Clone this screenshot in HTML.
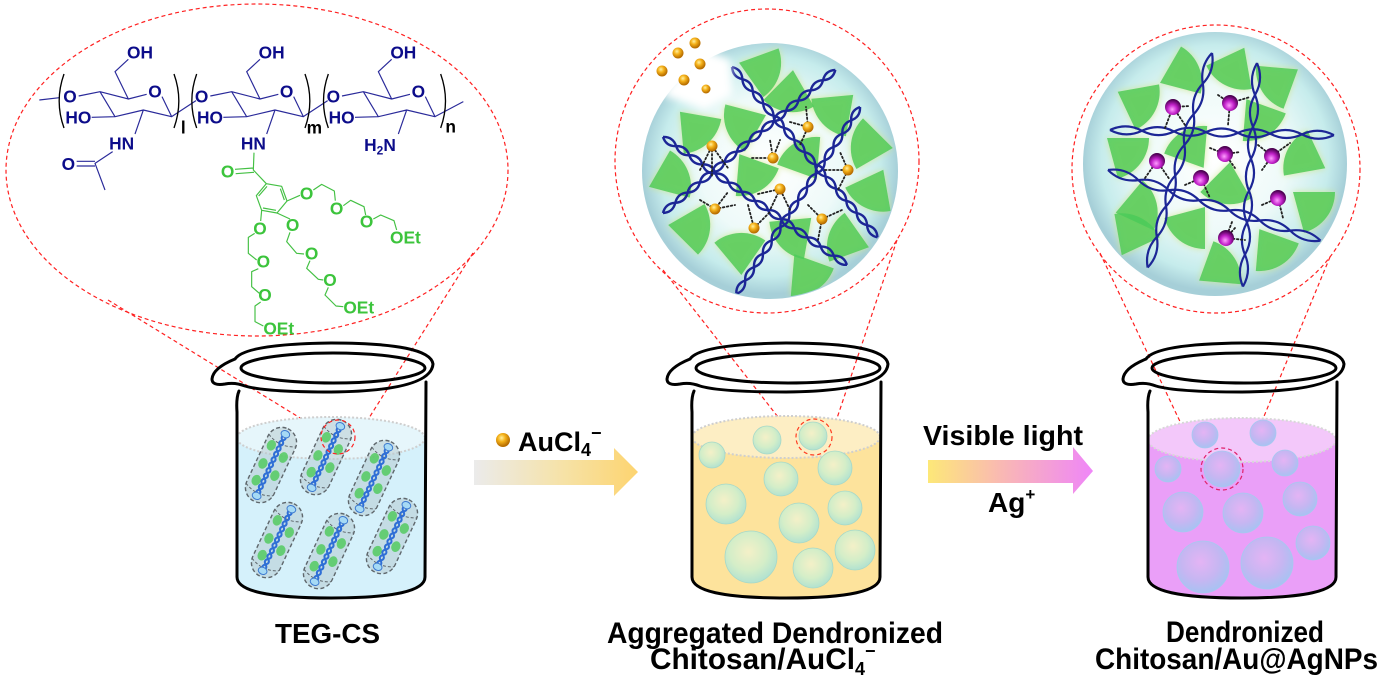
<!DOCTYPE html>
<html><head><meta charset="utf-8"><style>
html,body{margin:0;padding:0;background:#fff;}
svg{display:block;}
text{font-family:"Liberation Sans",Arial,sans-serif;font-weight:bold;}
</style></head><body>
<svg width="1383" height="686" viewBox="0 0 1383 686" xmlns="http://www.w3.org/2000/svg">
<defs>
 <radialGradient id="sph" cx="50%" cy="48%" r="50%">
  <stop offset="0" stop-color="#ffffff"/>
  <stop offset=".55" stop-color="#eefaf9"/>
  <stop offset=".86" stop-color="#c6ecec"/>
  <stop offset="1" stop-color="#a6cfd8"/>
 </radialGradient>
 <radialGradient id="gold" cx="40%" cy="35%" r="60%">
  <stop offset="0" stop-color="#fff0a0"/>
  <stop offset=".45" stop-color="#f5b21a"/>
  <stop offset="1" stop-color="#b86e00"/>
 </radialGradient>
 <radialGradient id="purp" cx="45%" cy="65%" r="60%">
  <stop offset="0" stop-color="#ff9cff"/>
  <stop offset=".5" stop-color="#c020c8"/>
  <stop offset="1" stop-color="#4a0050"/>
 </radialGradient>
 <radialGradient id="bY" cx="45%" cy="40%" r="60%">
  <stop offset="0" stop-color="#f4f0c8"/>
  <stop offset=".6" stop-color="#d4eec8"/>
  <stop offset="1" stop-color="#b2e2d0"/>
 </radialGradient>
 <radialGradient id="bP" cx="45%" cy="40%" r="60%">
  <stop offset="0" stop-color="#e4b4f4"/>
  <stop offset=".6" stop-color="#c6b6f2"/>
  <stop offset="1" stop-color="#a8c2f2"/>
 </radialGradient>
 <linearGradient id="ar1" x1="0" x2="1" y1="0" y2="0">
  <stop offset="0" stop-color="#ebebeb"/>
  <stop offset=".55" stop-color="#f6e2a6"/>
  <stop offset="1" stop-color="#fdd470"/>
 </linearGradient>
 <linearGradient id="ar2" x1="0" x2="1" y1="0" y2="0">
  <stop offset="0" stop-color="#fde878"/>
  <stop offset=".45" stop-color="#f9b8b4"/>
  <stop offset="1" stop-color="#ef86f8"/>
 </linearGradient>
 <filter id="glow" x="-40%" y="-40%" width="180%" height="180%">
  <feGaussianBlur in="SourceAlpha" stdDeviation="3.5" result="b"/>
  <feFlood flood-color="#cfe68a" flood-opacity=".9"/>
  <feComposite in2="b" operator="in" result="g"/>
  <feMerge><feMergeNode in="g"/><feMergeNode in="SourceGraphic"/></feMerge>
 </filter>
 <filter id="soft" x="-50%" y="-50%" width="200%" height="200%"><feGaussianBlur stdDeviation="4"/></filter>
 <clipPath id="c2"><circle cx="770" cy="171" r="127"/></clipPath>
 <clipPath id="c3"><circle cx="1215" cy="164" r="131"/></clipPath>
 <path id="fan" d="M-20 -15 L22 -15 A42 42 0 0 1 -9 25.6 Z"/>
 <g id="hx" fill="none">
  <path d="M0 0Q8 6 16 0T32 0T48 0T64 0T80 0T96 0T112 0T128 0T144 0T160 0T176 0T192 0T208 0T224 0"/>
  <path d="M0 0Q8 -6 16 0T32 0T48 0T64 0T80 0T96 0T112 0T128 0T144 0T160 0T176 0T192 0T208 0T224 0"/>
 </g>
 <g id="hx3" fill="none">
  <path d="M0 0Q16 8 32 0T64 0T96 0T128 0T160 0T192 0T224 0"/>
  <path d="M0 0Q16 -8 32 0T64 0T96 0T128 0T160 0T192 0T224 0"/>
 </g>
 <g id="cap">
  <rect x="-15" y="-40" width="30" height="80" rx="15" fill="#b4c8ce" fill-opacity=".5" stroke="#5f676c" stroke-width="1.4" stroke-dasharray="4 2.5"/>
  <path d="M-15 -27 Q0 -19 15 -27 M-15 27 Q0 35 15 27" fill="none" stroke="#5f676c" stroke-width="1" stroke-dasharray="3 2"/>
  <g fill="#4cc957" fill-opacity=".8">
   <ellipse cx="-8" cy="-18" rx="4.5" ry="5.5"/>
   <ellipse cx="8" cy="-12" rx="4.5" ry="5.5"/>
   <ellipse cx="-8" cy="2" rx="4.5" ry="5.5"/>
   <ellipse cx="8" cy="8" rx="4.5" ry="5.5"/>
   <ellipse cx="-7" cy="20" rx="4.5" ry="5.5"/>
  </g>
  <g fill="none" stroke="#2f6fd6" stroke-width="2">
   <path d="M0 -33Q4 -30 0 -27T0 -21T0 -15T0 -9T0 -3T0 3T0 9T0 15T0 21T0 27T0 33"/>
   <path d="M0 -33Q-4 -30 0 -27T0 -21T0 -15T0 -9T0 -3T0 3T0 9T0 15T0 21T0 27T0 33"/>
  </g>
  <ellipse cx="0" cy="-34" rx="4.5" ry="3.5" fill="#a6daf5" stroke="#3c7ad0" stroke-width="1"/>
  <ellipse cx="0" cy="34" rx="4.5" ry="3.5" fill="#a6daf5" stroke="#3c7ad0" stroke-width="1"/>
 </g>
 <g id="bko" fill="none" stroke="#000" stroke-width="3" stroke-linejoin="round" stroke-linecap="round">
  <path d="M694 391 Q691 398 692 412 L692 577 Q692 598 786 598 Q880 598 880 577 L881 382"/>
  <path d="M690 359 Q700 344 786 343 Q885 343 888 364 Q886 391 786 392 Q720 392 700 386 Q690 382 680 384 Q667 386 667 379 Q668 368 690 359 Z"/>
  <ellipse cx="788" cy="368" rx="92" ry="15"/>
 </g>
</defs>

<!-- ===== Panel 1: chemical structure ===== -->
<ellipse cx="257" cy="170" rx="251" ry="166" fill="none" stroke="#ff2020" stroke-width="1.2" stroke-dasharray="4 3"/>
<g stroke="#ff2020" stroke-width="1.2" stroke-dasharray="4 3" fill="none">
 <path d="M108 300 L323 432"/>
 <path d="M473 253 L357 437"/>
</g>

<g transform="scale(0.333333)">
 <g stroke="#2a2a9a" stroke-width="3.5" fill="none" stroke-linejoin="round">
  <path d="M118 300 L178 293"/>
  <g id="u1">
   <path d="M236 288 L300 275 L385 297 L440 283 M486 290 L515 350 L430 330 L345 350 L300 275 M385 297 L345 215 L385 178 M345 350 L275 352 M430 330 L405 402 M515 350 L588 302"/>
  </g>
  <path d="M338 455 L285 490 L315 570 M285 484 L230 484 M285 498 L230 498"/>
  <use href="#u1" transform="translate(395,0)"/>
  <path transform="translate(790,0)" d="M236 288 L300 275 L385 297 L440 283 M486 290 L515 350 L430 330 L345 350 L300 275 M385 297 L345 215 L385 178 M345 350 L275 352 M430 330 L405 402 M515 350 L600 305"/>
 </g>
 <g stroke="#000" stroke-width="4" fill="none">
  <path d="M192 222 Q163 303 192 384 M522 222 Q551 303 522 384 M590 222 Q561 303 590 384 M915 222 Q944 303 915 384 M985 222 Q956 303 985 384 M1322 222 Q1351 303 1322 384"/>
 </g>
 <g font-size="52" fill="#0c0c8a" text-anchor="middle">
  <text x="210" y="308">O</text><text x="465" y="293">O</text><text x="420" y="176">OH</text><text x="235" y="370">HO</text><text x="365" y="448">HN</text><text x="205" y="510">O</text>
  <text x="605" y="308">O</text><text x="860" y="293">O</text><text x="815" y="176">OH</text><text x="630" y="370">HO</text><text x="760" y="448">HN</text>
  <text x="1000" y="308">O</text><text x="1255" y="293">O</text><text x="1210" y="176">OH</text><text x="1025" y="370">HO</text>
  <text x="1140" y="453">H<tspan font-size="36" dy="10">2</tspan><tspan dy="-10">N</tspan></text>
 </g>
 <g font-size="52" fill="#000" text-anchor="middle">
  <text x="550" y="400">l</text><text x="943" y="400">m</text><text x="1352" y="398">n</text>
 </g>
 <g stroke="#44c044" stroke-width="3.5" fill="none" stroke-linejoin="round">
  <path d="M762 458 L760 510 L799 551 M760 504 L705 508 M762 517 L707 521"/>
  <path d="M799 551 L845 559 L861 603 L831 639 L785 631 L769 587 Z"/>
  <path d="M841 566 L853 600 M828 631 L789 624 M776 588 L801 559"/>
  <path d="M861 603 L900 586 M940 570 L965 553 L1003 573 L1006 602 M1030 617 L1052 601 L1092 620 L1097 645 M1120 657 L1142 645 L1182 662 L1190 690"/>
  <path d="M831 639 L870 657 M870 697 L860 725 L890 760 L912 762 M930 782 L920 805 L955 838 L970 840 M985 862 L975 885 L1008 918 L1030 920"/>
  <path d="M785 631 L782 663 M764 700 L745 712 L745 760 L770 780 M775 806 L755 815 L755 860 L778 880 M782 906 L765 918 L765 965 L790 978"/>
 </g>
 <g font-size="52" fill="#3cc43c" text-anchor="middle">
  <text x="683" y="533">O</text>
  <text x="920" y="598">O</text><text x="1010" y="643">O</text><text x="1100" y="683">O</text>
  <text x="878" y="693">O</text><text x="935" y="778">O</text><text x="990" y="858">O</text>
  <text x="780" y="703">O</text><text x="790" y="803">O</text><text x="795" y="903">O</text>
 </g>
 <g font-size="52" fill="#3cc43c">
  <text x="1170" y="730">OEt</text><text x="1030" y="940">OEt</text><text x="790" y="1003">OEt</text>
 </g>
</g>

<!-- ===== Sphere 2 ===== -->
<circle cx="767" cy="161" r="152" fill="none" stroke="#ff2020" stroke-width="1.2" stroke-dasharray="4 3"/>
<circle cx="770" cy="171" r="128" fill="url(#sph)"/>
<g clip-path="url(#c2)">
 <g fill="#4dcc5a" fill-opacity=".88" filter="url(#glow)">
  <use href="#fan" transform="translate(763 70) rotate(-20)"/>
  <use href="#fan" transform="translate(790 95) rotate(60)"/>
  <use href="#fan" transform="translate(835 112) rotate(100)"/>
  <use href="#fan" transform="translate(697 130) rotate(10)"/>
  <use href="#fan" transform="translate(743 125) rotate(120)"/>
  <use href="#fan" transform="translate(868 145) rotate(150)"/>
  <use href="#fan" transform="translate(672 177) rotate(-60)"/>
  <use href="#fan" transform="translate(753 175) rotate(20)"/>
  <use href="#fan" transform="translate(803 158) rotate(200)"/>
  <use href="#fan" transform="translate(872 192) rotate(80)"/>
  <use href="#fan" transform="translate(693 228) rotate(-30)"/>
  <use href="#fan" transform="translate(740 250) rotate(230)"/>
  <use href="#fan" transform="translate(793 235) rotate(100)"/>
  <use href="#fan" transform="translate(845 240) rotate(160)"/>
  <use href="#fan" transform="translate(808 275) rotate(20)"/>
 </g>
 <g stroke="#1c2696" stroke-width="2.4">
  <use href="#hx" transform="translate(663 137) rotate(34.8)"/>
  <use href="#hx" transform="translate(663 213) rotate(-39.7)"/>
  <use href="#hx" transform="translate(732 67) rotate(49.5)"/>
  <use href="#hx" transform="translate(860 107) rotate(123.5)"/>
 </g>
 <g fill="none" stroke="#222" stroke-width="1.8" stroke-dasharray="1.6 2.4" stroke-linecap="round">
  <path d="M700 170 L712 146 L728 168 M712 146 L712 178"/>
  <path d="M752 158 L773 158 L780 140 M773 158 L770 140"/>
  <path d="M790 122 L808 127 L800 145 M808 127 L806 107"/>
  <path d="M825 170 L848 170 L840 152 M848 170 L838 190"/>
  <path d="M758 194 L780 189 L790 210 M780 189 L770 210"/>
  <path d="M700 200 L715 209 L728 192 M715 209 L735 205"/>
  <path d="M748 205 L754 228 L770 212"/>
  <path d="M808 205 L822 219 L842 210 M822 219 L818 240"/>
 </g>
 <g fill="url(#gold)">
  <circle cx="712" cy="146" r="5.5"/><circle cx="773" cy="158" r="5.5"/><circle cx="808" cy="127" r="5.5"/><circle cx="848" cy="170" r="5.5"/>
  <circle cx="780" cy="189" r="5.5"/><circle cx="715" cy="209" r="5.5"/><circle cx="754" cy="228" r="5.5"/><circle cx="822" cy="219" r="5.5"/>
 </g>
</g>
<path d="M662 95 L700 48 L730 60 L732 95 L705 110 Z" fill="#fff" filter="url(#soft)"/>
<g fill="url(#gold)">
 <circle cx="662" cy="71" r="5.5"/><circle cx="678" cy="53" r="5.5"/><circle cx="695" cy="43" r="5.5"/>
 <circle cx="700" cy="64" r="5.5"/><circle cx="684" cy="80" r="5.5"/><circle cx="706" cy="89" r="4.5"/>
</g>
<g stroke="#ff2020" stroke-width="1.2" stroke-dasharray="4 3" fill="none">
 <path d="M663 270 L796 440"/>
 <path d="M897 240 L832 433"/>
</g>

<!-- ===== Sphere 3 ===== -->
<circle cx="1216" cy="169" r="144" fill="none" stroke="#ff2020" stroke-width="1.2" stroke-dasharray="4 3"/>
<circle cx="1215" cy="164" r="132" fill="url(#sph)"/>
<g clip-path="url(#c3)">
 <g fill="#4dcc5a" fill-opacity=".88" filter="url(#glow)">
  <use href="#fan" transform="translate(1183 73) rotate(-60)"/>
  <use href="#fan" transform="translate(1233 70) rotate(80)"/>
  <use href="#fan" transform="translate(1277 83) rotate(110)"/>
  <use href="#fan" transform="translate(1140 103) rotate(-10)"/>
  <use href="#fan" transform="translate(1260 120) rotate(20)"/>
  <use href="#fan" transform="translate(1127 153) rotate(0)"/>
  <use href="#fan" transform="translate(1190 147) rotate(200)"/>
  <use href="#fan" transform="translate(1303 157) rotate(170)"/>
  <use href="#fan" transform="translate(1227 187) rotate(60)"/>
  <use href="#fan" transform="translate(1140 207) rotate(-50)"/>
  <use href="#fan" transform="translate(1190 227) rotate(90)"/>
  <use href="#fan" transform="translate(1313 207) rotate(0)"/>
  <use href="#fan" transform="translate(1133 233) rotate(-100)"/>
  <use href="#fan" transform="translate(1220 267) rotate(-70)"/>
  <use href="#fan" transform="translate(1273 250) rotate(20)"/>
 </g>
 <g stroke="#1c2696" stroke-width="2.2">
  <use href="#hx3" transform="translate(1110 130) rotate(1.3)"/>
  <use href="#hx3" transform="translate(1108 170) rotate(18.4)"/>
  <use href="#hx3" transform="translate(1212 53) rotate(106.7)"/>
  <use href="#hx3" transform="translate(1257 63) rotate(93.6)"/>
 </g>
 <g fill="none" stroke="#222" stroke-width="1.8" stroke-dasharray="1.6 2.4" stroke-linecap="round">
  <path d="M1165 128 L1173 107 L1190 106 M1173 107 L1185 125"/>
  <path d="M1218 95 L1230 103 L1250 97 M1230 103 L1228 125"/>
  <path d="M1145 178 L1157 161 L1170 180"/>
  <path d="M1210 148 L1225 154 L1240 152 M1225 154 L1235 168"/>
  <path d="M1258 145 L1272 156 L1290 143 M1272 156 L1262 170"/>
  <path d="M1185 185 L1201 178 L1210 198"/>
  <path d="M1262 205 L1278 198 L1283 218"/>
  <path d="M1232 222 L1226 238 L1245 240 M1226 238 L1235 228"/>
 </g>
 <g fill="url(#purp)">
  <circle cx="1173" cy="107" r="8"/><circle cx="1230" cy="103" r="8"/><circle cx="1157" cy="161" r="8"/><circle cx="1225" cy="154" r="8"/>
  <circle cx="1272" cy="156" r="8"/><circle cx="1201" cy="178" r="8"/><circle cx="1278" cy="198" r="8"/><circle cx="1226" cy="238" r="8"/>
 </g>
</g>
<g stroke="#ff2020" stroke-width="1.2" stroke-dasharray="4 3" fill="none">
 <path d="M1100 253 L1203 470"/>
 <path d="M1330 257 L1243 467"/>
</g>

<!-- ===== Beaker 1 ===== -->
<g transform="translate(-455 0)">
 <path d="M692 437 L692 577 Q692 598 786 598 Q880 598 880 577 L880 437 Z" fill="#d5f1fb"/>
 <ellipse cx="786" cy="438" rx="94" ry="21" fill="#e6f6fb" stroke="#cfcfcf" stroke-width="2" stroke-dasharray="2 2"/>
</g>
<use href="#cap" transform="translate(271 465) rotate(25)"/>
<use href="#cap" transform="translate(326 457) rotate(25)"/>
<use href="#cap" transform="translate(374 478) rotate(25)"/>
<use href="#cap" transform="translate(277 540) rotate(25)"/>
<use href="#cap" transform="translate(329 551) rotate(25)"/>
<use href="#cap" transform="translate(392 536) rotate(25)"/>
<use href="#bko" transform="translate(-455 0)"/>
<circle cx="338" cy="437" r="17" fill="none" stroke="#ff2020" stroke-width="1.2" stroke-dasharray="4 3"/>

<!-- ===== Beaker 2 ===== -->
<path d="M692 437 L692 577 Q692 598 786 598 Q880 598 880 577 L880 437 Z" fill="#fde39c"/>
<ellipse cx="786" cy="437" rx="94" ry="21" fill="#fdeec4" stroke="#cfcfcf" stroke-width="2" stroke-dasharray="2 2"/>
<g fill="url(#bY)" stroke="#a6d8c8" stroke-width=".8">
 <circle cx="767" cy="440" r="14"/><circle cx="813" cy="436" r="14"/><circle cx="712" cy="455" r="13"/>
 <circle cx="781" cy="479" r="17"/><circle cx="835" cy="468" r="17"/><circle cx="726" cy="504" r="20"/>
 <circle cx="845" cy="508" r="17"/><circle cx="799" cy="523" r="20"/><circle cx="751" cy="557" r="26"/>
 <circle cx="813" cy="568" r="20"/><circle cx="855" cy="550" r="20"/>
</g>
<use href="#bko"/>
<circle cx="814" cy="437" r="18" fill="none" stroke="#ff3a20" stroke-width="1.2" stroke-dasharray="4 3"/>

<!-- ===== Beaker 3 ===== -->
<g transform="translate(456 0)">
 <path d="M692 440 L692 577 Q692 598 786 598 Q880 598 880 577 L880 440 Z" fill="#ea9ff8"/>
 <ellipse cx="786" cy="440" rx="94" ry="22" fill="#f3c8fa" stroke="#d8d8d8" stroke-width="2" stroke-dasharray="2 2"/>
</g>
<g fill="url(#bP)" stroke="#a8c8f0" stroke-width=".8">
 <circle cx="1205" cy="435" r="13"/><circle cx="1263" cy="433" r="13"/><circle cx="1168" cy="469" r="13"/>
 <circle cx="1222" cy="469" r="18"/><circle cx="1285" cy="463" r="13"/><circle cx="1183" cy="512" r="20"/>
 <circle cx="1243" cy="513" r="20"/><circle cx="1300" cy="499" r="17"/><circle cx="1313" cy="543" r="17"/>
 <circle cx="1203" cy="567" r="26"/><circle cx="1267" cy="563" r="26"/>
</g>
<use href="#bko" transform="translate(456 0)"/>
<circle cx="1222" cy="469" r="21" fill="none" stroke="#e0206a" stroke-width="1.2" stroke-dasharray="4 3"/>

<!-- ===== Arrows ===== -->
<path d="M474 460 H614 V448 L638 472 L614 496 V485 H474 Z" fill="url(#ar1)"/>
<circle cx="503" cy="440" r="7" fill="url(#gold)"/>
<text x="518" y="451" font-size="27" fill="#000">AuCl<tspan font-size="18" dy="5">4</tspan><tspan font-size="18" dy="-17">−</tspan></text>

<path d="M928 460 H1073 V447 L1093 471 L1073 494 V483 H928 Z" fill="url(#ar2)"/>
<text x="923" y="445" font-size="28" fill="#000" textLength="160" lengthAdjust="spacingAndGlyphs">Visible light</text>
<text x="988" y="512" font-size="28" fill="#000">Ag<tspan font-size="17" dy="-12">+</tspan></text>

<!-- ===== Labels ===== -->
<text x="275" y="643" font-size="28" fill="#000" textLength="105" lengthAdjust="spacingAndGlyphs">TEG-CS</text>
<text x="607" y="643" font-size="30" fill="#000" textLength="336" lengthAdjust="spacingAndGlyphs">Aggregated Dendronized</text>
<text x="650" y="669" font-size="30" fill="#000"><tspan textLength="205" lengthAdjust="spacingAndGlyphs">Chitosan/AuCl</tspan><tspan font-size="18" dy="6">4</tspan><tspan font-size="18" dy="-18">−</tspan></text>
<text x="1166" y="642" font-size="30" fill="#000" textLength="158" lengthAdjust="spacingAndGlyphs">Dendronized</text>
<text x="1095" y="669" font-size="30" fill="#000" textLength="283" lengthAdjust="spacingAndGlyphs">Chitosan/Au@AgNPs</text>
</svg>
</body></html>
